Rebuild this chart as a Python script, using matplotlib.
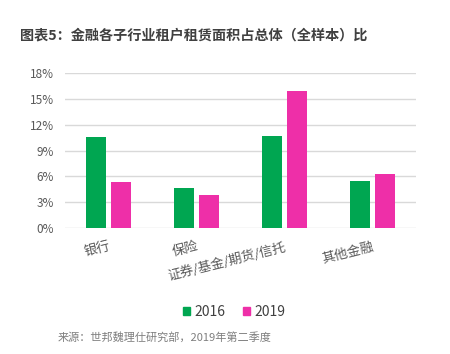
import matplotlib
matplotlib.use("Agg")
import matplotlib.pyplot as plt
import numpy as np
from matplotlib.patches import Patch

plt.rcParams['font.family'] = ['Noto Sans CJK SC', 'DejaVu Sans']

categories = ["银行", "保险", "证券/基金/期货/信托", "其他金融"]
series_names = ["2016", "2019"]
values_2016 = [10.6, 4.6, 10.7, 5.4]
values_2019 = [5.3, 3.8, 16.0, 6.3]
yticks = [0, 3, 6, 9, 12, 15, 18]
title = "图表5：金融各子行业租户租赁面积占总体（全样本）比"
source = "来源：世邦魏理仕研究部，2019年第二季度"

green = "#00A651"
pink = "#EE2FA8"
tick_color = "#595959"

fig = plt.figure(figsize=(4.5, 3.54), dpi=100)
ax = fig.add_axes([0.1444, 0.3568, 0.78, 0.4356])

x = np.arange(len(categories))
w = 0.228
off = 0.1425
ax.bar(x - off, values_2016, width=w, color=green, zorder=3)
ax.bar(x + off, values_2019, width=w, color=pink, zorder=3)

ax.set_xlim(-0.5, 3.5)
ax.set_ylim(0, 18)
ax.set_yticks(yticks)
ax.set_yticklabels([f"{t}%" for t in yticks], color=tick_color, fontsize=8.5)
ax.yaxis.grid(True, color="#d9d9d9", linewidth=1, zorder=0)
ax.set_axisbelow(True)
for s in ax.spines.values():
    s.set_visible(False)
ax.tick_params(axis='y', length=0, pad=8)
ax.tick_params(axis='x', length=0, pad=9)

ax.set_xticks(x)
ax.set_xticklabels(categories, rotation=14, ha='right', va='top',
                   rotation_mode='anchor', color=tick_color, fontsize=9.5)

fig.text(0.045, 0.9, title, fontsize=10.2, fontweight='bold', color="#404040",
         ha='left', va='center')

handles = [Patch(color=green, label=series_names[0]),
           Patch(color=pink, label=series_names[1])]
fig.legend(handles=handles, loc='center', bbox_to_anchor=(0.52, 0.12), ncol=2,
           frameon=False, fontsize=10, handlelength=0.5, handleheight=0.5,
           handletextpad=0.3, columnspacing=1.3, labelcolor="#404040")

fig.text(0.129, 0.048, source, fontsize=8, color="#7f7f7f", ha='left', va='center')

fig.savefig("out.png", dpi=100)
